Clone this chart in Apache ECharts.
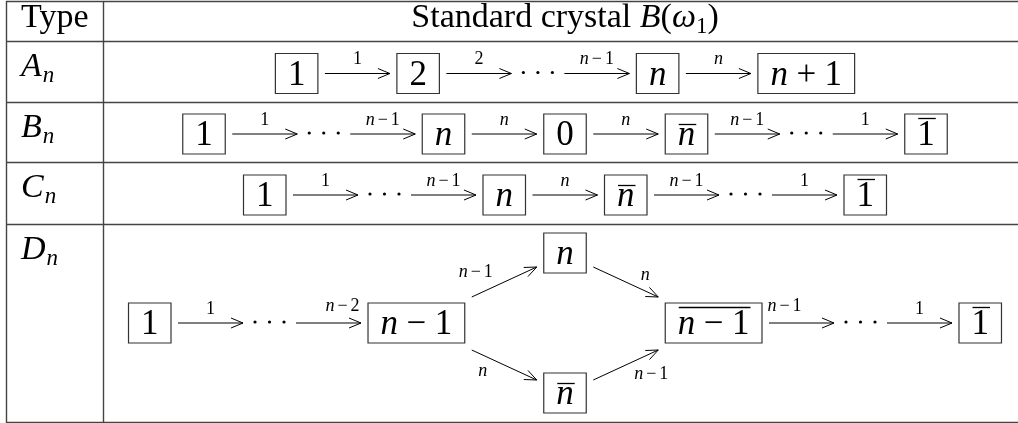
<!DOCTYPE html>
<html>
<head>
<meta charset="utf-8">
<script src="https://cdn.jsdelivr.net/npm/echarts@6/dist/echarts.min.js"></script>
<style>
  html, body { margin: 0; padding: 0; background: #fff; }
  #main { width: 1018px; height: 423px; }
</style>
</head>
<body>
<div id="main"></div>
<script>
// table content
const headers = ['Type', 'Standard crystal'];
const headerMath = ['B', '(', 'ω', '1', ')'];
const types = ['A', 'B', 'C', 'D'];
const typeSub = 'n';

// crystal chains: plain string = box, '>' + label = arrow, '...' = dots,
// '~' prefix = overlined box, '<>' = the split (diamond) part of D_n
const chainA = ['1', '>1', '2', '>2', '...', '>n−1', 'n', '>n', 'n+1'];
const chainB = ['1', '>1', '...', '>n−1', 'n', '>n', '0', '>n', '~n', '>n−1', '...', '>1', '~1'];
const chainC = ['1', '>1', '...', '>n−1', 'n', '>n', '~n', '>n−1', '...', '>1', '~1'];
const chainD = ['1', '>1', '...', '>n−2', 'n−1', '<>', '~n−1', '>n−1', '...', '>1', '~1'];
const diamondNodes = ['n', '~n'];                 // upper, lower
const diamondLabels = ['n−1', 'n', 'n', 'n−1'];   // up-in, up-out, down-in, down-out

// layout / style
const FAM = 'Liberation Serif';
const ROW_LINES = [1, 41, 102, 162, 224, 422];
const COL_LINES = [6, 103];
const CENTER_X = 565;
const BOX_H = 40, BOX_PAD = 12.5, ARROW = 65, GAP = 7, DOTS = 53;
const DIAG_DX = 65, DIAG_DY = 70;
const S_BOX = 35, S_LBL = 18, S_TXT = 34, S_SUB = 23;
const OP_BOX = 8.5, OP_LBL = 3;
const LABEL_NUDGE = { 3: [14, -3], 7: [-17, -3] }; // only row D

const ctx = document.createElement('canvas').getContext('2d');
const els = [];

function isItalic(ch) { return /[a-zA-Zα-ω]/.test(ch); }

function measure(str, size, opPad) {
  let x = 0;
  const runs = [];
  for (const ch of str) {
    const it = isItalic(ch);
    const op = ch === '+' || ch === '−';
    ctx.font = (it ? 'italic ' : '') + size + 'px "' + FAM + '"';
    if (op) x += opPad;
    const w = ctx.measureText(ch).width;
    runs.push({ t: ch, it: it, x: x });
    x += w;
    if (op) x += opPad;
  }
  return { runs: runs, width: x };
}

// baseline -> middle for canvas 'middle' text baseline
function midY(baseline, size) { return baseline - 0.3375 * size; }

function text(t, x, yMid, size, italic, align) {
  els.push({
    type: 'text', x: x, y: yMid, silent: true,
    style: {
      text: t, fontFamily: FAM, fontSize: size,
      fontStyle: italic ? 'italic' : 'normal',
      fill: '#000', align: align || 'left', verticalAlign: 'middle'
    }
  });
}

function line(x1, y1, x2, y2, w, c) {
  els.push({
    type: 'line', silent: true,
    shape: { x1: x1, y1: y1, x2: x2, y2: y2 },
    style: { stroke: c || '#000', lineWidth: w || 1 }
  });
}

function mathText(str, cx, yMid, size, opPad) {
  const m = measure(str, size, opPad);
  const x0 = cx - m.width / 2;
  m.runs.forEach(r => text(r.t, x0 + r.x, yMid, size, r.it));
  return { x0: x0, width: m.width };
}

function boxW(tok) {
  const s = tok[0] === '~' ? tok.slice(1) : tok;
  return measure(s, S_BOX, OP_BOX).width + 2 * BOX_PAD;
}

function drawBox(tok, x, yc) {
  const bar = tok[0] === '~';
  const s = bar ? tok.slice(1) : tok;
  const w = boxW(tok);
  els.push({
    type: 'rect', silent: true,
    shape: { x: x, y: yc - BOX_H / 2, width: w, height: BOX_H },
    style: { fill: 'none', stroke: '#333', lineWidth: 1.2 }
  });
  const t = mathText(s, x + w / 2, yc + 2, S_BOX, OP_BOX);
  if (bar) {
    const by = yc - BOX_H / 2 + (/\d/.test(s) ? 4.5 : 10.5);
    line(t.x0 + 1, by, t.x0 + t.width + 1, by, 1.3);
  }
  return w;
}

function arrow(x1, y1, x2, y2) {
  line(x1, y1, x2, y2, 1);
  const len = Math.hypot(x2 - x1, y2 - y1);
  const ux = (x2 - x1) / len, uy = (y2 - y1) / len;
  const hx = x2 - 12 * ux, hy = y2 - 12 * uy;
  els.push({
    type: 'polyline', silent: true,
    shape: { points: [[hx - 5 * uy, hy + 5 * ux], [x2, y2], [hx + 5 * uy, hy - 5 * ux]] },
    style: { stroke: '#000', lineWidth: 1, fill: 'none' }
  });
}

function tokWidth(tok) {
  if (tok === '...') return DOTS;
  if (tok === '<>') return 2 * DIAG_DX + 2 * GAP + Math.max(boxW(diamondNodes[0]), boxW(diamondNodes[1]));
  if (tok[0] === '>') return ARROW;
  return boxW(tok);
}

function drawChain(chain, yc, nudge) {
  let total = 0;
  chain.forEach((tok, i) => {
    total += tokWidth(tok);
    if (i > 0 && tok !== '...' && chain[i - 1] !== '...') total += GAP;
  });
  let x = CENTER_X - total / 2;
  chain.forEach((tok, i) => {
    if (i > 0 && tok !== '...' && chain[i - 1] !== '...') x += GAP;
    const w = tokWidth(tok);
    if (tok === '...') {
      [12, 26.5, 41].forEach(d => els.push({
        type: 'circle', silent: true,
        shape: { cx: x + d, cy: yc - 1, r: 1.6 },
        style: { fill: '#000' }
      }));
    } else if (tok === '<>') {
      const nw = w - 2 * DIAG_DX - 2 * GAP;
      const xo = x + DIAG_DX + 2 * GAP + nw;
      // upper branch
      arrow(x, yc - 26, x + DIAG_DX, yc - DIAG_DY + 14);
      drawBox(diamondNodes[0], x + DIAG_DX + GAP, yc - DIAG_DY);
      arrow(xo, yc - DIAG_DY + 14, xo + DIAG_DX, yc - 26);
      // lower branch
      arrow(x, yc + 27, x + DIAG_DX, yc + DIAG_DY - 13);
      drawBox(diamondNodes[1], x + DIAG_DX + GAP, yc + DIAG_DY);
      arrow(xo, yc + DIAG_DY - 13, xo + DIAG_DX, yc + 27);
      mathText(diamondLabels[0], x + 4, yc - 51, S_LBL, OP_LBL);
      mathText(diamondLabels[1], xo + 52, yc - 48, S_LBL, OP_LBL);
      mathText(diamondLabels[2], x + 11, yc + 48, S_LBL, OP_LBL);
      mathText(diamondLabels[3], xo + 58, yc + 51, S_LBL, OP_LBL);
    } else if (tok[0] === '>') {
      arrow(x, yc, x + ARROW, yc);
      const nd = (nudge && nudge[i]) || [0, 0];
      mathText(tok.slice(1), x + ARROW / 2 + nd[0], midY(yc - 8, S_LBL) + nd[1], S_LBL, OP_LBL);
    } else {
      drawBox(tok, x, yc);
    }
    x += w;
  });
}

// table rules
ROW_LINES.forEach(y => line(COL_LINES[0], y + 0.5, 1018, y + 0.5, 1.4, '#444'));
COL_LINES.forEach(x => line(x + 0.5, ROW_LINES[0], x + 0.5, ROW_LINES[ROW_LINES.length - 1] + 1, 1.4, '#444'));

// header
text(headers[0], 21, midY(30, S_TXT), S_TXT, false);
(function () {
  ctx.font = S_TXT + 'px "' + FAM + '"';
  const wTitle = ctx.measureText(headers[1] + ' ').width;
  const parts = headerMath.map((t, i) => {
    const sub = i === 3;
    const size = sub ? S_SUB : S_TXT;
    ctx.font = (isItalic(t) ? 'italic ' : '') + size + 'px "' + FAM + '"';
    return { t: t, size: size, sub: sub, w: ctx.measureText(t).width };
  });
  const total = wTitle + parts.reduce((a, p) => a + p.w, 0);
  let x = CENTER_X - total / 2;
  text(headers[1], x, midY(30, S_TXT), S_TXT, false);
  x += wTitle;
  parts.forEach(p => {
    text(p.t, x, midY(p.sub ? 35 : 30, p.size), p.size, isItalic(p.t));
    x += p.w;
  });
})();

// rows
const chains = [chainA, chainB, chainC, chainD];
types.forEach((t, i) => {
  const top = ROW_LINES[i + 1], bottom = ROW_LINES[i + 2];
  const base = top + 38;
  ctx.font = 'italic ' + S_TXT + 'px "' + FAM + '"';
  const wA = ctx.measureText(t).width;
  text(t, 21, midY(base, S_TXT), S_TXT, true);
  text(typeSub, 21 + wA + 1, midY(base + 5, S_SUB), S_SUB, true);
  const yc = (top + bottom) / 2 + (i === 3 ? 0 : 2);
  drawChain(chains[i], yc, i === 3 ? LABEL_NUDGE : null);
});

const chart = echarts.init(document.getElementById('main'), null, { renderer: 'canvas' });
chart.setOption({
  backgroundColor: '#fff',
  animation: false,
  graphic: { elements: els }
});
</script>
</body>
</html>
